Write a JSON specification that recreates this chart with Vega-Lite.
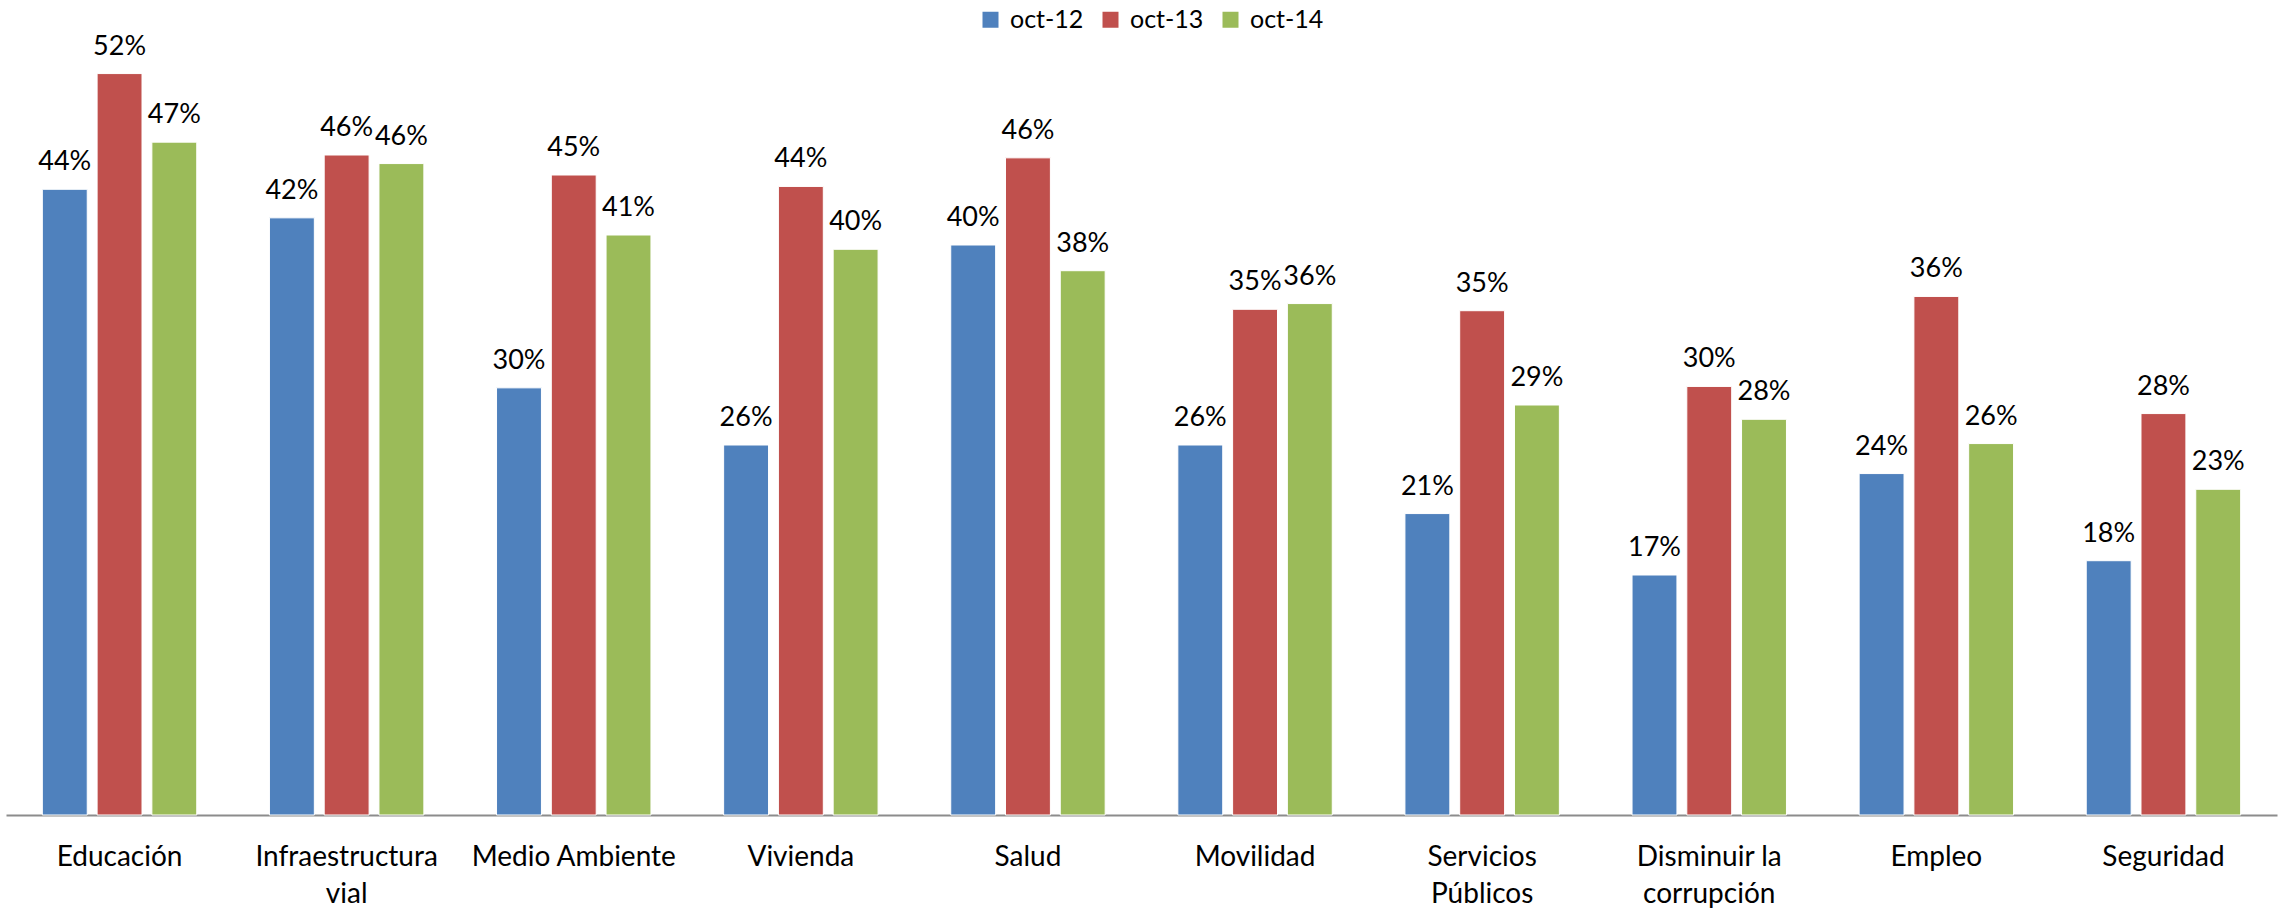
{
  "$schema": "https://vega.github.io/schema/vega-lite/v6.json",
  "width": 2271,
  "height": 775,
  "autosize": {"type": "none"},
  "padding": {"left": 6, "top": 40, "right": 8, "bottom": 99},
  "background": "white",
  "config": {"view": {"stroke": null}, "font": "Lato"},
  "data": {"values": [
    {"cat": "Educación", "s": "oct-12", "v": 0.438},
    {"cat": "Educación", "s": "oct-13", "v": 0.519},
    {"cat": "Educación", "s": "oct-14", "v": 0.471},
    {"cat": "Infraestructura|vial", "s": "oct-12", "v": 0.418},
    {"cat": "Infraestructura|vial", "s": "oct-13", "v": 0.462},
    {"cat": "Infraestructura|vial", "s": "oct-14", "v": 0.456},
    {"cat": "Medio Ambiente", "s": "oct-12", "v": 0.299},
    {"cat": "Medio Ambiente", "s": "oct-13", "v": 0.448},
    {"cat": "Medio Ambiente", "s": "oct-14", "v": 0.406},
    {"cat": "Vivienda", "s": "oct-12", "v": 0.259},
    {"cat": "Vivienda", "s": "oct-13", "v": 0.44},
    {"cat": "Vivienda", "s": "oct-14", "v": 0.396},
    {"cat": "Salud", "s": "oct-12", "v": 0.399},
    {"cat": "Salud", "s": "oct-13", "v": 0.46},
    {"cat": "Salud", "s": "oct-14", "v": 0.381},
    {"cat": "Movilidad", "s": "oct-12", "v": 0.259},
    {"cat": "Movilidad", "s": "oct-13", "v": 0.354},
    {"cat": "Movilidad", "s": "oct-14", "v": 0.358},
    {"cat": "Servicios|Públicos", "s": "oct-12", "v": 0.211},
    {"cat": "Servicios|Públicos", "s": "oct-13", "v": 0.353},
    {"cat": "Servicios|Públicos", "s": "oct-14", "v": 0.287},
    {"cat": "Disminuir la|corrupción", "s": "oct-12", "v": 0.168},
    {"cat": "Disminuir la|corrupción", "s": "oct-13", "v": 0.3},
    {"cat": "Disminuir la|corrupción", "s": "oct-14", "v": 0.277},
    {"cat": "Empleo", "s": "oct-12", "v": 0.239},
    {"cat": "Empleo", "s": "oct-13", "v": 0.363},
    {"cat": "Empleo", "s": "oct-14", "v": 0.26},
    {"cat": "Seguridad", "s": "oct-12", "v": 0.178},
    {"cat": "Seguridad", "s": "oct-13", "v": 0.281},
    {"cat": "Seguridad", "s": "oct-14", "v": 0.228}
  ]},
  "encoding": {
    "x": {
      "field": "cat", "type": "nominal", "sort": null,
      "scale": {"paddingInner": 0.32, "paddingOuter": 0.16},
      "axis": {
        "title": null, "labelAngle": 0, "ticks": false,
        "domainColor": "#8c8c8c", "domainWidth": 2,
        "labelExpr": "split(datum.label, '|')",
        "labelFont": "Lato", "labelFontSize": 28, "labelColor": "#000000",
        "labelPadding": 28, "labelLineHeight": 37, "labelBaseline": "top",
        "labelLimit": 400
      }
    },
    "xOffset": {"field": "s", "type": "nominal", "scale": {"paddingInner": 0.18, "paddingOuter": 0}},
    "y": {
      "field": "v", "type": "quantitative",
      "scale": {"domain": [0, 0.5425], "nice": false, "zero": true},
      "axis": null
    }
  },
  "layer": [
    {
      "mark": {"type": "bar", "stroke": "white", "strokeWidth": 1},
      "encoding": {
        "color": {
          "field": "s", "type": "nominal",
          "scale": {"domain": ["oct-12", "oct-13", "oct-14"], "range": ["#4F81BD", "#C0504D", "#9BBB59"]},
          "legend": {
            "title": null, "orient": "none", "direction": "horizontal",
            "legendX": 972, "legendY": -33,
            "symbolType": "square", "symbolSize": 256, "symbolStrokeWidth": 0,
            "labelFont": "Lato", "labelFontSize": 25, "labelColor": "#000000",
            "labelOffset": 7, "columnPadding": 14
          }
        }
      }
    },
    {
      "mark": {"type": "text", "baseline": "alphabetic", "dy": -19, "fontSize": 27, "font": "Lato", "color": "#000000"},
      "encoding": {
        "text": {"field": "v", "type": "quantitative", "format": ".0%"}
      }
    }
  ]
}
